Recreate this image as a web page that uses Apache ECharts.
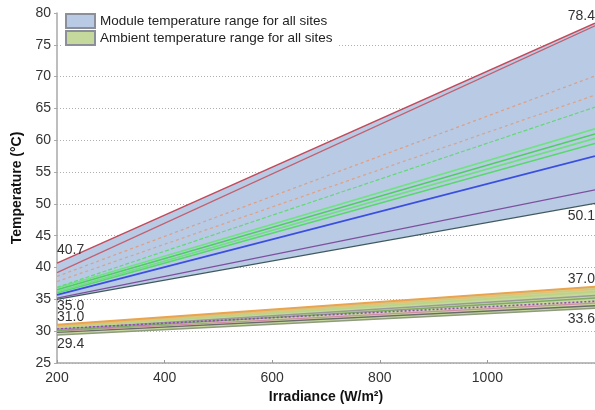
<!DOCTYPE html>
<html>
<head>
<meta charset="utf-8">
<script src="https://cdn.jsdelivr.net/npm/echarts@6/dist/echarts.min.js"></script>
<style>
html,body{margin:0;padding:0;background:#fff;}
#c{width:595px;height:410px;}
</style>
</head>
<body>
<div id="c"></div>
<script>
// X values (irradiance, W/m2)
const irradiance = [200, 1200];
// Band edges
const moduleUpper = [40.7, 78.4];
const moduleLower = [35.0, 50.1];
const ambientUpper = [31.0, 37.0];
const ambientLower = [29.4, 33.6];
// Module temperature lines (per site)
const modRed1 = [40.7, 78.4];
const modRed2 = [39.2, 78.0];
const modOrangeDash1 = [38.6, 70.1];
const modOrangeDash2 = [37.8, 67.1];
const modGreenDash = [36.9, 65.2];
const modGreen1 = [36.8, 61.8];
const modGreen2 = [36.5, 61.0];
const modGreen3 = [36.2, 60.3];
const modGreen4 = [36.0, 59.5];
const modBlue = [35.7, 57.5];
const modPurple = [35.2, 52.2];
const modDark = [35.0, 50.1];
// Ambient temperature lines (per site)
const ambOrange = [31.0, 37.0];
const ambTan = [30.8, 36.6];
const ambLightGreen = [30.6, 36.2];
const ambGray = [30.3, 35.6];
const ambGreen = [30.1, 35.2];
const ambPurple = [30.4, 34.7];
const ambPink = [30.0, 34.4];
const ambDark = [29.8, 34.0];
const ambOlive = [29.4, 33.6];
// Axis ticks
const yTicks = [25, 30, 35, 40, 45, 50, 55, 60, 65, 70, 75, 80];
const xTicks = [200, 400, 600, 800, 1000, 1200];

const moduleName = 'Module temperature range for all sites';
const ambientName = 'Ambient temperature range for all sites';
const FONT = '"Liberation Sans", Arial, sans-serif';

function pts(arr) { return irradiance.map((x, i) => [x, arr[i]]); }

function line(arr, color, width, type) {
  return {
    type: 'line', data: pts(arr), showSymbol: false, silent: true,
    lineStyle: { color: color, width: width, type: type || 'solid' },
    z: 3
  };
}
function band(lower, upper, name, color) {
  return {
    type: 'custom', name: name, silent: true, clip: true, z: 1,
    itemStyle: { color: color, borderColor: '#8a8f99', borderWidth: 1 },
    data: pts(lower),
    renderItem: function (params, api) {
      if (params.dataIndex !== 0) return null;
      const poly = [];
      for (let i = 0; i < irradiance.length; i++) poly.push(api.coord([irradiance[i], lower[i]]));
      for (let i = irradiance.length - 1; i >= 0; i--) poly.push(api.coord([irradiance[i], upper[i]]));
      return { type: 'polygon', shape: { points: poly }, style: { fill: color } };
    }
  };
}
function labelSeries(arr, leftPos, leftDist, rightPos, rightDist) {
  const d = pts(arr);
  return {
    type: 'line', data: [
      { value: d[0], label: { show: true, position: leftPos, align: 'left', distance: leftDist } },
      { value: d[1], label: { show: true, position: rightPos, align: 'right', distance: rightDist } }
    ],
    showSymbol: true, symbol: 'circle', symbolSize: 1, silent: true,
    itemStyle: { color: 'rgba(0,0,0,0)' },
    lineStyle: { width: 0, opacity: 0 },
    label: { color: '#333', fontSize: 14, fontFamily: FONT, formatter: p => p.value[1].toFixed(1) },
    z: 10
  };
}

const series = [
  band(moduleLower, moduleUpper, moduleName, '#b9cbe4'),
  band(ambientLower, ambientUpper, ambientName, '#c6d99c'),
  line(modDark, '#3f5a5e', 1.2),
  line(modPurple, '#7d4f9e', 1.2),
  line(modBlue, '#3a4fe0', 1.8),
  line(modGreen4, '#56d86a', 1.6),
  line(modGreen3, '#6ee07e', 1.6),
  line(modGreen2, '#4ccf5e', 1.6),
  line(modGreen1, '#70e282', 1.6),
  line(modGreenDash, '#66d67a', 1.2, [4, 2]),
  line(modOrangeDash2, '#d9a48c', 1.3, [3, 3]),
  line(modOrangeDash1, '#dba08a', 1.3, [3, 3]),
  line(modRed2, '#c26070', 1.3),
  line(modRed1, '#c24a5c', 1.5),
  line(ambOlive, '#8d9a7c', 1.3),
  line(ambDark, '#6a6a6a', 1.3),
  line(ambPink, '#d08ea4', 1.3),
  line(ambGreen, '#7eaa66', 1.5),
  line(ambGray, '#9a9a9a', 1.5),
  line(ambPurple, '#9448c0', 1.6, [2, 2]),
  line(ambLightGreen, '#bcd488', 1.8),
  line(ambTan, '#e2c276', 1.8),
  line(ambOrange, '#e8a450', 2),
  labelSeries(moduleUpper, 'top', 5, 'top', 0),
  labelSeries(moduleLower, 'bottom', -1, 'bottom', 5),
  labelSeries(ambientUpper, 'top', 0, 'top', 0),
  labelSeries(ambientLower, 'bottom', 2, 'bottom', 3)
];

const chart = echarts.init(document.getElementById('c'), null, { renderer: 'canvas' });
chart.setOption({
  animation: false,
  backgroundColor: '#fff',
  textStyle: { fontFamily: FONT },
  grid: { left: 57, right: -1, top: 13, bottom: 47, containLabel: false },
  legend: {
    data: [moduleName, ambientName],
    orient: 'vertical', left: 62, top: 12,
    icon: 'rect', itemWidth: 29, itemHeight: 14, itemGap: 1,
    padding: [1, 6, 2, 3],
    backgroundColor: '#fff',
    textStyle: { fontSize: 13.5, color: '#222', fontFamily: FONT },
    selectedMode: false
  },
  xAxis: {
    type: 'value', min: xTicks[0], max: xTicks[xTicks.length - 1], interval: 200,
    name: 'Irradiance (W/m\u00B2)', nameLocation: 'middle', nameGap: 25,
    nameTextStyle: { fontSize: 14, fontWeight: 'bold', color: '#111', fontFamily: FONT },
    axisLine: { lineStyle: { color: '#a8a8a8', width: 1.5 } },
    axisTick: { show: true, inside: true, length: 3, lineStyle: { color: '#999' } },
    axisLabel: { fontSize: 14, color: '#333', margin: 8, showMaxLabel: false,
      formatter: v => (xTicks.indexOf(v) >= 0 && v < 1200) ? String(v) : '' },
    splitLine: { show: false }
  },
  yAxis: {
    type: 'value', min: yTicks[0], max: yTicks[yTicks.length - 1], interval: 5,
    name: 'Temperature (\u00B0C)', nameLocation: 'middle', nameGap: 28,
    nameTextStyle: { fontSize: 14, fontWeight: 'bold', color: '#111', fontFamily: FONT },
    axisLine: { show: true, lineStyle: { color: '#a8a8a8', width: 1.5 } },
    axisTick: { show: true, length: 3, lineStyle: { color: '#aaa' } },
    axisLabel: { fontSize: 14, color: '#333', margin: 6 },
    splitLine: { show: true, showMaxLine: false, lineStyle: { color: '#b0b0b0', type: [1, 2], width: 1 } }
  },
  series: series
});
</script>
</body>
</html>
